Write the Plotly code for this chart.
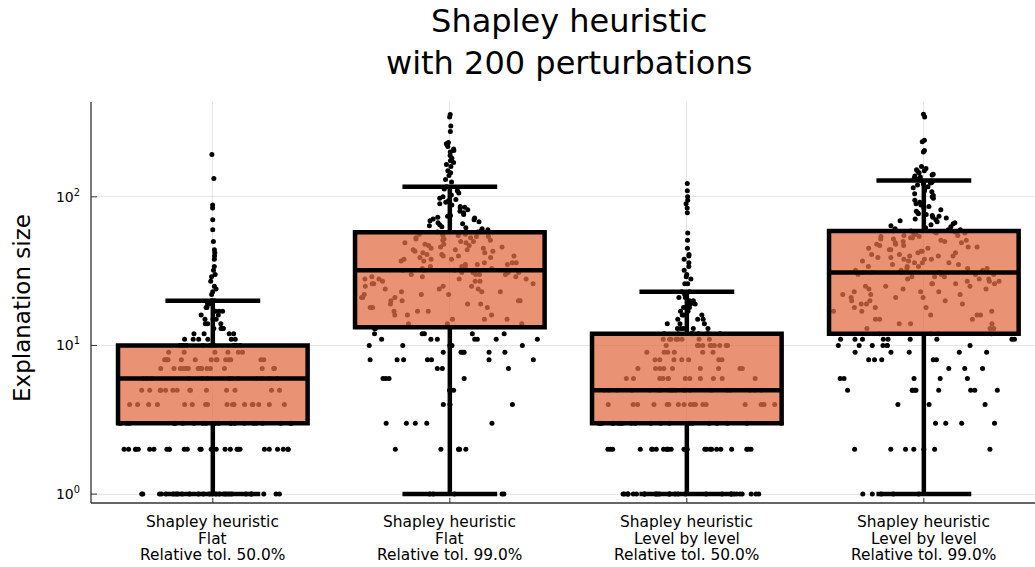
import numpy as np
import plotly.graph_objects as go

# ---------------- data ----------------
categories = [
    "Shapley heuristic<br>Flat<br>Relative tol. 50.0%",
    "Shapley heuristic<br>Flat<br>Relative tol. 99.0%",
    "Shapley heuristic<br>Level by level<br>Relative tol. 50.0%",
    "Shapley heuristic<br>Level by level<br>Relative tol. 99.0%",
]

# Flat, 50 %
flat50_levels = list(range(1, 21))
flat50_counts = [26, 28, 22, 18, 14, 14, 16, 14, 6, 10, 6, 4, 4, 3, 3, 2, 3, 2, 2, 2]
flat50_high = [22, 23, 24, 25, 27, 29, 30, 32, 34, 38, 40, 42, 44, 50, 60, 70, 84, 88, 133, 193]

# Flat, 99 %
flat99_levels = list(range(1, 59))
flat99_counts = [5, 6, 5, 3, 2, 4, 3, 7, 6, 5, 7, 5, 2,
                 3, 3, 3, 3, 3, 3, 4, 3, 3, 3, 3, 3, 3, 3, 4, 3, 4, 4,
                 3, 3, 3, 3, 3, 2, 3, 2, 3, 2, 2, 2, 3, 2, 2, 2, 2, 2, 2, 2, 2, 2, 2, 2, 2, 2, 2]
flat99_high = [59, 60, 61, 62, 63, 64, 65, 66, 67, 68, 69, 70, 71, 72, 73, 74, 75, 76, 78, 80,
               82, 84, 85, 86, 88, 90, 92, 94, 96, 98, 100, 103, 106, 110, 113, 117,
               126, 131, 139, 145, 150, 160, 165, 170, 175, 182, 190, 200, 205, 210, 218,
               222, 228, 232, 275, 300, 345, 358]

# Level by level, 50 %
lbl50_levels = list(range(1, 24))
lbl50_counts = [28, 24, 20, 18, 20, 12, 9, 7, 6, 10, 8, 8, 5, 3, 3, 3, 2, 2, 2, 2, 2, 1, 2]
lbl50_high = [26, 26, 28, 29, 30, 32, 34, 36, 38, 40, 41, 45, 51, 57, 78, 84, 90, 95, 100, 110, 123]

# Level by level, 99 %
lbl99_levels = list(range(1, 61))
lbl99_counts = [5, 7, 4, 3, 9, 5, 3, 5, 5, 7, 9, 4,
                3, 3, 3, 3, 3, 3, 3, 3, 3, 3, 3, 3, 3, 4, 3, 3, 3, 4, 4,
                3, 3, 3, 2, 3, 2, 3, 2, 3, 2, 2, 2, 2, 2, 2, 2, 2, 2, 2, 2, 2, 2, 2, 2, 2, 2, 2, 2, 2]
lbl99_high = [61, 62, 63, 64, 65, 66, 67, 68, 69, 70, 71, 72, 73, 74, 75, 76, 77, 78,
              80, 82, 84, 86, 88, 90, 92, 95, 98, 100, 102, 105, 108, 110, 112, 115, 117,
              120, 122, 124, 125, 127, 128, 129,
              132, 134, 136, 138, 140, 142, 145, 148, 150, 152, 155, 160, 200, 205, 235, 240, 345, 360]

x_positions = [1, 2, 3, 4]
y_ticks = [1, 10, 100]
y_tick_text = ["10<sup>0</sup>", "10<sup>1</sup>", "10<sup>2</sup>"]

groups = [
    np.repeat(flat50_levels, flat50_counts).tolist() + flat50_high,
    np.repeat(flat99_levels, flat99_counts).tolist() + flat99_high,
    np.repeat(lbl50_levels, lbl50_counts).tolist() + lbl50_high,
    np.repeat(lbl99_levels, lbl99_counts).tolist() + lbl99_high,
]

# ---------------- styling / layout constants ----------------
W, H = 1035, 567
ML, MT, MB = 91, 102, 64
PH = H - MT - MB
BOX_FILL = "rgba(226,111,70,0.75)"
AXIS_COLOR = "#333333"
HALF = 0.4
FONT = "DejaVu Sans"


def ypaper(px):
    """pixel row in the figure -> paper coordinate"""
    return 1 - (px - MT) / PH


fig = go.Figure()

# density-shaped dot strips (deterministic hash-based spread)
for k, vals in zip(x_positions, groups):
    y = np.asarray(vals, dtype=float)
    n = len(y)
    q1, q3 = np.percentile(y, [25, 75])
    bw = 0.9 * min(y.std(ddof=1), (q3 - q1) / 1.34) * n ** -0.2
    grid = np.linspace(y.min() - 4 * bw, y.max() + 4 * bw, 200)
    dens = lambda t: np.exp(-0.5 * ((np.asarray(t)[:, None] - y[None, :]) / bw) ** 2).sum(axis=1)
    scale = dens(y) / dens(grid).max()
    idx = np.arange(n) + 1.0
    u = 2.0 * (np.abs(np.sin(idx * 12.9898 + k * 78.233) * 43758.5453) % 1.0) - 1.0
    xs = k + HALF * scale * u
    fig.add_trace(go.Scatter(
        x=xs, y=y, mode="markers",
        marker=dict(color="black", size=5, line=dict(width=0)),
        hoverinfo="skip", showlegend=False, zorder=0,
    ))

# boxes drawn on top of the dots
for k, vals in zip(x_positions, groups):
    y = np.asarray(vals, dtype=float)
    q1, med, q3 = np.percentile(y, [25, 50, 75])
    iqr = q3 - q1
    lf = y[y >= q1 - 1.5 * iqr].min()
    uf = y[y <= q3 + 1.5 * iqr].max()
    fig.add_trace(go.Box(
        x=[k], q1=[q1], median=[med], q3=[q3], lowerfence=[lf], upperfence=[uf],
        width=2 * HALF, boxpoints=False,
        fillcolor=BOX_FILL, line=dict(color="black", width=4.5),
        whiskerwidth=0.5, showlegend=False, hoverinfo="skip", zorder=1,
    ))

# axis frame (left + bottom) and inward tick marks, drawn above the traces
shapes = [
    dict(type="line", xref="paper", yref="paper", x0=0, x1=1, y0=0, y1=0,
         line=dict(color=AXIS_COLOR, width=1.3), layer="above"),
    dict(type="line", xref="paper", yref="paper", x0=0, x1=0, y0=0, y1=1,
         line=dict(color=AXIS_COLOR, width=1.3), layer="above"),
]
for xv in x_positions:
    shapes.append(dict(type="line", xref="x", yref="paper", x0=xv, x1=xv,
                       ysizemode="pixel", yanchor=0, y0=0, y1=5,
                       line=dict(color=AXIS_COLOR, width=1), layer="above"))
for yv in y_ticks:
    shapes.append(dict(type="line", xref="paper", yref="y", y0=yv, y1=yv,
                       xsizemode="pixel", xanchor=0, x0=0, x1=6,
                       line=dict(color=AXIS_COLOR, width=1), layer="above"))

annotations = []
# title (two lines)
annotations.append(dict(
    text="Shapley heuristic<br>with 200 perturbations",
    xref="paper", yref="paper", x=(569 - ML) / (W - ML), y=ypaper(42.5),
    xanchor="center", yanchor="middle", showarrow=False,
    font=dict(size=32, family=FONT, color="black"),
))
# y-axis title
annotations.append(dict(
    text="Explanation size", textangle=-90,
    xref="paper", yref="paper", x=(22 - ML) / (W - ML), y=ypaper(308),
    xanchor="center", yanchor="middle", showarrow=False,
    font=dict(size=23, family=FONT, color="black"),
))
# category labels under each box
line_rows = [522, 538.5, 555]
for k, cat in zip(x_positions, categories):
    for line, row in zip(cat.split("<br>"), line_rows):
        annotations.append(dict(
            text=line, xref="x", yref="paper", x=k, y=ypaper(row),
            xanchor="center", yanchor="middle", showarrow=False,
            font=dict(size=15.4, family=FONT, color="black"),
        ))

axis_common = dict(
    showline=False, ticks="",
    showgrid=True, gridcolor="rgba(0,0,0,0.1)", gridwidth=1,
    zeroline=False, mirror=False,
)

fig.update_layout(
    width=W, height=H,
    margin=dict(l=ML, r=0, t=MT, b=MB),
    paper_bgcolor="white", plot_bgcolor="white",
    showlegend=False, boxmode="overlay",
    font=dict(family=FONT, color="black"),
    annotations=annotations, shapes=shapes,
    xaxis=dict(
        range=[0.486, 4.469], tickvals=x_positions, showticklabels=False,
        **axis_common,
    ),
    yaxis=dict(
        type="log", range=[-0.06, 2.638],
        tickvals=y_ticks, ticktext=y_tick_text, ticklabelstandoff=10,
        tickfont=dict(size=14, family=FONT, color="black"),
        **axis_common,
    ),
)

fig.write_html("out.html")
